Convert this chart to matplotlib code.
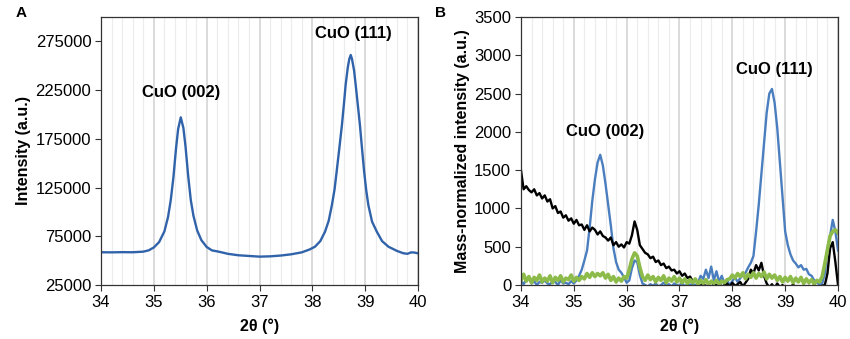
import numpy as np
import matplotlib
matplotlib.use("Agg")
from matplotlib import pyplot as plt
from matplotlib.ticker import MultipleLocator

plt.rcParams["font.family"] = ["Liberation Sans", "DejaVu Sans"]

# Panel A: XRD pattern (smooth)
theta_a = [34.0, 34.2, 34.4, 34.6, 34.8, 34.9, 35.0, 35.1, 35.2, 35.27, 35.32, 35.37,
           35.42, 35.46, 35.51, 35.56, 35.6, 35.65, 35.7, 35.75, 35.82, 35.9, 36.0,
           36.1, 36.2, 36.3, 36.4, 36.6, 36.8, 37.0, 37.2, 37.4, 37.6, 37.8, 37.95,
           38.05, 38.15, 38.24, 38.31, 38.37, 38.42, 38.46, 38.51, 38.56, 38.6, 38.63,
           38.67, 38.7, 38.726, 38.75, 38.79, 38.82, 38.86, 38.9, 38.94, 38.98, 39.02,
           39.06, 39.13, 39.22, 39.32, 39.44, 39.6, 39.72, 39.8, 39.87, 39.93, 40.0]
intensity_a = [58600, 58500, 58700, 58600, 59200, 60500, 63500, 69000, 80000, 95000,
               112000, 135000, 165000, 185000, 197000, 186000, 167000, 137000, 112000,
               96000, 81000, 71000, 64000, 60500, 59500, 58300, 57000, 55500, 54800,
               54100, 54400, 55200, 56500, 58500, 61500, 64300, 70000, 79700, 91000,
               107000, 123000, 141400, 165000, 189300, 212000, 230400, 248000, 257000,
               261000, 257000, 245000, 230400, 210000, 189300, 165000, 141400, 122000,
               107000, 90000, 79700, 70000, 64300, 60000, 57600, 57000, 58500, 58300,
               57500]

# Panel B: mass-normalized patterns, sampled every 0.05 deg from 34 to 40
theta_b = np.round(np.linspace(34, 40, 121), 2)
blue_b = [60, 10, 70, 90, 20, 50, 0, 40, 30, 60, 20, 10, 50, 40, 0, 60, 20, 30, 10, 50,
          20, 60, 120, 200, 320, 450, 750, 1100, 1380, 1600, 1700, 1560, 1320, 1050, 780,
          480, 300, 200, 160, 100, 30, 60, 220, 320, 300, 130, 20, 0, -20, 10,
          -10, 20, -20, 0, 30, -10, 10, -20, 20, 0, -10, 30, -20, 10, 0, 20, -10, 30,
          120, 80, 200, 90, 240, 60, 180, 40, 120, 20, 60, 0, 50, 100, 40, 90, 130, 160,
          230, 290, 380, 700, 1050, 1450, 1850, 2250, 2500, 2560, 2380, 2050, 1600, 1150,
          700, 520, 400, 320, 280, 230, 260, 200, 210, 140, 120, 60, 40, 0, 20, 150,
          480, 640, 850, 700, 450]
black_b = [1500, 1250, 1290, 1240, 1210, 1250, 1170, 1200, 1130, 1170, 1090, 1120, 1000,
           1030, 940, 960, 880, 910, 840, 870, 800, 850, 780, 790, 720, 780, 700, 750,
           720, 660, 700, 640, 620, 580, 620, 520, 560, 500, 530, 490, 560, 540, 650,
           830, 720, 520, 470, 420, 400, 350, 370, 300, 320, 260, 280, 220, 240, 190,
           200, 150, 180, 120, 150, 90, 110, 50, 70, 20, -20, 30, -30, 10, -40, 20,
           -10, 30, -30, 0, 20, -20, 30, -10, 10, 40, -20, 30, 80, 200, 150,
           260, 190, 290, 120, 20, -30, 10, -40, 20, -30, 0, -50, -20, -40, 10,
           -60, -20, -50, -30, -60, -10, -40, -50, -20, -30, -10, 0, 150, 480, 560,
           300, 0]
green_b = [60, 140, 50, 110, 30, 100, 60, 130, 40, 90, 50, 120, 30, 100, 60, 120, 40, 90,
           70, 130, 50, 100, 60, 110, 80, 150, 100, 160, 110, 150, 120, 160, 90, 140, 60,
           110, 40, 90, 50, 110, 90, 200, 340, 420, 380, 230, 110, 60, 130, 70, 110, 40,
           100, 60, 120, 30, 90, 50, 110, 40, 90, 30, 80, 20, 70, 30, 80, 10, 60, 20, 70,
           10, 50, 20, 60, 10, 50, 30, 70, 80, 130, 90, 150, 110, 160, 80, 140, 100, 160,
           90, 150, 110, 170, 80, 140, 90, 130, 60, 110, 40, 100, 50, 110, 30, 90, 40,
           100, 20, 80, 30, 70, 10, 60, 40, 110, 280, 460, 640, 700, 720, 680]

fig = plt.figure(figsize=(8.5, 3.39), dpi=100)
ax1 = fig.add_axes([0.1188, 0.1593, 0.373, 0.7906])
ax2 = fig.add_axes([0.6129, 0.1593, 0.373, 0.7906])


def style_axes(ax):
    ax.set_xlim(34, 40)
    ax.xaxis.set_major_locator(MultipleLocator(1))
    ax.xaxis.set_minor_locator(MultipleLocator(0.2))
    ax.grid(True, which="major", axis="x", color="#d4d4d4", lw=1.2)
    ax.grid(True, which="minor", axis="x", color="#ececec", lw=0.8)
    ax.set_axisbelow(True)
    ax.tick_params(axis="both", which="major", labelsize=12, length=4, width=0.8,
                   color="#333333", direction="out", pad=3)
    ax.tick_params(axis="x", which="minor", length=0)
    for s in ax.spines.values():
        s.set_color("#333333")
        s.set_linewidth(0.9)
    ax.set_xlabel("2θ (°)", fontsize=11.5, fontweight="bold", labelpad=6)


# Panel A
style_axes(ax1)
ax1.plot(theta_a, intensity_a, color="#3163aa", lw=1.7)
ax1.set_ylim(25000, 300000)
ax1.set_yticks(np.arange(25000, 300000, 50000))
ax1.set_ylabel("Intensity (a.u.)", fontsize=11.5, fontweight="bold", labelpad=3)
ax1.text(35.52, 223000, "CuO (002)", ha="center", va="center", fontsize=12, fontweight="bold")
ax1.text(38.77, 283000, "CuO (111)", ha="center", va="center", fontsize=12, fontweight="bold")

# Panel B
style_axes(ax2)
ax2.plot(theta_b, blue_b, color="#4a7ebf", lw=1.7)
ax2.plot(theta_b, black_b, color="black", lw=1.7)
ax2.plot(theta_b, green_b, color="#8dbb4a", lw=2.6)
ax2.set_ylim(0, 3500)
ax2.set_yticks(np.arange(0, 3501, 500))
ax2.set_ylabel("Mass-normalized intensity (a.u.)", fontsize=11.5, fontweight="bold", labelpad=3)
ax2.text(35.6, 2000, "CuO (002)", ha="center", va="center", fontsize=12, fontweight="bold")
ax2.text(38.8, 2810, "CuO (111)", ha="center", va="center", fontsize=12, fontweight="bold")

fig.text(0.018, 0.962, "A", fontsize=11, fontweight="bold", va="center")
fig.text(0.512, 0.962, "B", fontsize=11, fontweight="bold", va="center")

fig.savefig("out.png", dpi=100)
